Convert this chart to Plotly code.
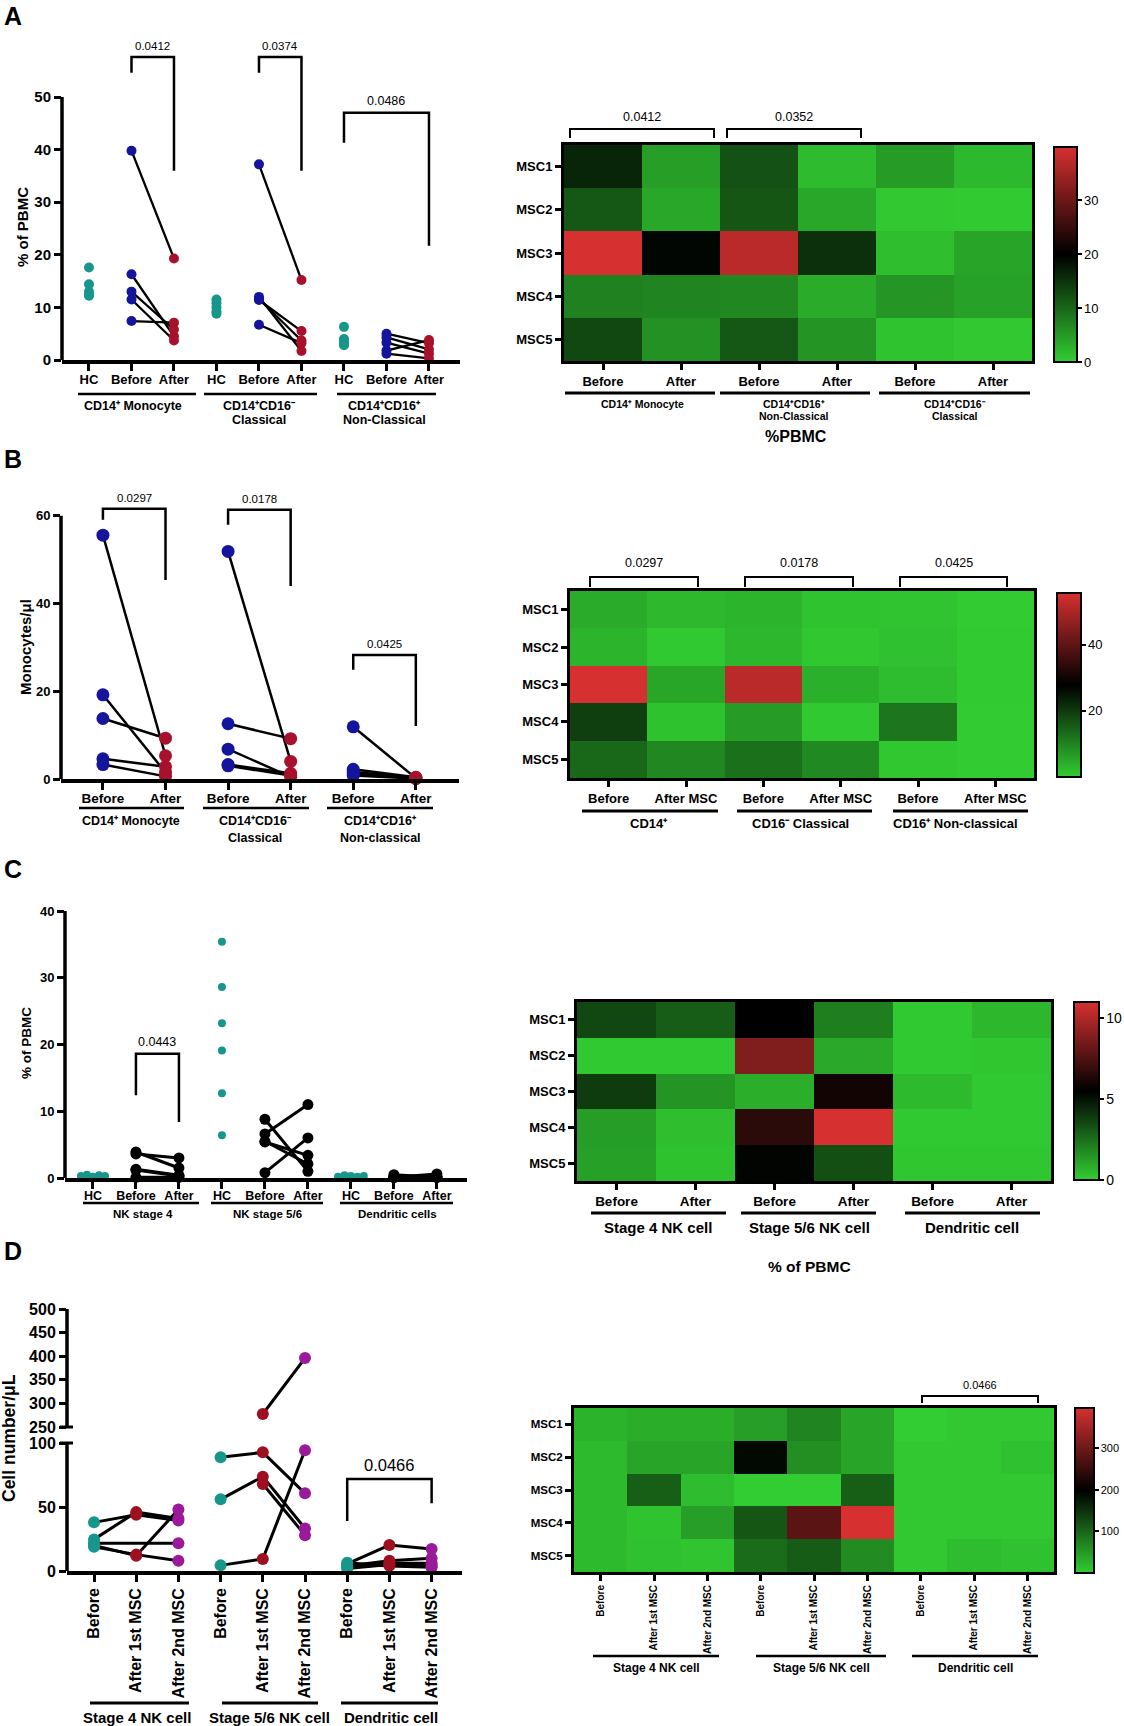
import numpy as np
import plotly.graph_objects as go

W, H = 1124, 1726
SANS = "Liberation Sans, Arial, Helvetica, sans-serif"

TEAL = "#17968b"
BLUE = "#14149c"
CRIMSON = "#a8112b"
DARKRED = "#9e1020"
PURPLE = "#9a1a9a"
HEAT_SCALE = [[0.0, "rgb(50,205,50)"], [0.5, "rgb(0,0,0)"], [1.0, "rgb(214,48,48)"]]
ROWS = ["MSC1", "MSC2", "MSC3", "MSC4", "MSC5"]

# ---------------- Panel A : % of PBMC (monocytes) ----------------
A_cats = ["HC", "Before", "After"]
A_hc_mono = [17.6, 14.4, 13.0, 12.4, 12.2]
A_before_mono = [16.3, 11.5, 39.8, 7.4, 13.0]
A_after_mono = [4.5, 3.7, 19.3, 7.1, 5.8]
A_hc_class = [11.5, 10.8, 10.0, 9.2, 8.8]
A_before_class = [12.0, 11.6, 37.2, 6.7, 11.4]
A_after_class = [1.7, 3.7, 15.2, 3.2, 5.5]
A_hc_ncl = [6.3, 4.0, 3.5, 3.0, 2.8]
A_before_ncl = [4.3, 1.2, 1.8, 5.0, 3.3]
A_after_ncl = [2.0, 0.3, 3.8, 3.2, 1.2]
A_heat_g3_before = [4.9, 0.5, 1.5, 5.3, 1.0]
A_heat_g3_after = [1.9, 0.3, 3.9, 4.3, 0.5]
A_heat_cols = ["Before", "After"] * 3

# ---------------- Panel B : Monocytes/ul ----------------
B_cats = ["Before", "After"]
B_before_mono = [4.6, 3.3, 55.6, 19.2, 13.8]
B_after_mono = [2.8, 0.6, 5.3, 1.5, 9.3]
B_before_class = [3.3, 3.0, 51.9, 6.8, 12.6]
B_after_class = [1.3, 0.8, 4.0, 0.5, 9.2]
B_before_ncl = [1.2, 1.6, 2.2, 11.9, 0.8]
B_after_ncl = [0.2, 0.3, 0.4, 0.2, 0.1]
B_heat_cols = ["Before", "After MSC"] * 3

# ---------------- Panel C : NK / DC % of PBMC ----------------
C_cats = ["HC", "Before", "After"]
C_hc_nk4 = [0.3, 0.5, 0.2, 0.4, 0.3]
C_before_nk4 = [3.6, 0.1, 3.9, 1.3, 1.2]
C_after_nk4 = [3.0, 0.1, 1.5, 0.4, 0.3]
C_hc_nk56 = [35.4, 28.6, 23.2, 19.1, 12.7, 6.4]
C_before_nk56 = [5.5, 8.8, 0.8, 6.6, 5.4]
C_after_nk56 = [2.1, 1.0, 6.0, 11.0, 3.4]
C_hc_dc = [0.2, 0.4, 0.3, 0.2, 0.3]
C_before_dc = [0.1, 0.1, 0.5, 0.1, 0.2]
C_after_dc = [0.6, 0.2, 0.1, 0.1, 0.2]
C_heat_cols = ["Before", "After"] * 3

# ---------------- Panel D : cell number/uL ----------------
D_cats = ["Before", "After 1st MSC", "After 2nd MSC"]
D_nk4_before = [38.0, 24.7, 21.6, 20.0, 19.0]
D_nk4_first = [44.0, 46.0, None, 12.0, 12.8]
D_nk4_second = [39.5, 41.0, 21.6, 48.0, 8.0]
D_nk56_before = [88.8, 56.0, 4.4, None, None]
D_nk56_first = [92.7, 73.7, 9.4, 277.5, 68.0]
D_nk56_second = [60.7, 33.3, 94.3, 396.0, 28.0]
D_dc_before = [5.5, 4.0, 3.0, 2.0, 6.5]
D_dc_first = [20.3, 8.0, 6.0, 5.0, 4.0]
D_dc_second = [17.2, 9.9, 6.0, 4.0, 3.0]
D_heat_nk4_before = [25, 18, 18, 18, 18]
D_heat_nk4_first = [30, 40, 107, 10, 12]
D_heat_nk4_second = [30, 40, 15, 45, 8]
D_heat_nk56_before = [45, 190, 0, 115, 95]
D_heat_nk56_first = [70, 60, 0, 282, 110]
D_heat_nk56_second = [39, 39, 107, 396, 63]
D_heat_dc_before = [0, 5, 5, 5, 5]
D_heat_dc_first = [5, 5, 5, 5, 15]
D_heat_dc_second = [5, 12, 5, 5, 12]
D_heat_cols = D_cats * 3

# =====================================================================
fig = go.Figure()
AX = {}
shapes, annots = [], []


def fx(p):
    return p / W


def fy(p):
    return 1 - p / H


def names(n):
    s = "" if n == 1 else str(n)
    return "xaxis" + s, "yaxis" + s, "x" + s, "y" + s


def bfont(size, bold=True):
    return dict(family=SANS, size=size, color="black", weight="bold" if bold else "normal")


def line_px(x0, y0, x1, y1, w=3):
    shapes.append(dict(type="line", xref="paper", yref="paper", x0=fx(x0), y0=fy(y0),
                       x1=fx(x1), y1=fy(y1), line=dict(color="black", width=w)))


def text_px(x, y, text, size, bold=True, angle=0, xanchor="center"):
    t = "<b>" + text + "</b>" if bold else text
    annots.append(dict(xref="paper", yref="paper", x=fx(x), y=fy(y), text=t, showarrow=False,
                       textangle=angle, xanchor=xanchor, yanchor="middle",
                       font=dict(family=SANS, size=size, color="black")))


def scatter_axes(n, xpx, ypx, xr, yr, yticks, ticktext, xfs, yfs, angle=0, ppu=1.0, standoff=0):
    xa, ya, xref, yref = names(n)
    AX[xa] = dict(domain=[fx(xpx[0]), fx(xpx[1])], range=xr, anchor=yref, showline=True,
                  linecolor="black", linewidth=3.5, ticks="outside", ticklen=7, tickwidth=3,
                  tickcolor="black", tickmode="array", tickvals=list(range(len(ticktext))),
                  ticktext=ticktext, tickangle=angle, tickfont=bfont(xfs), showgrid=False,
                  zeroline=False, ticklabelstandoff=standoff)
    AX[ya] = dict(domain=[fy(ypx[0]), fy(ypx[1])], range=yr, anchor=xref, showline=False,
                  ticks="outside", ticklen=7, tickwidth=3, tickcolor="black", tickmode="array",
                  tickvals=yticks, ticktext=[str(v) for v in yticks], tickfont=bfont(yfs),
                  showgrid=False, zeroline=False)
    shapes.append(dict(type="line", xref=xref + " domain", yref=yref, x0=0, x1=0,
                       y0=yticks[0] - 3.5 / ppu, y1=yticks[-1], line=dict(color="black", width=3.5)))


def add_points(n, groups, colors, sizes, paired, lw, spreads=None, upper=None, split=None):
    _, _, xref, yref = names(n)
    ncat = len(colors)
    for g, grp in enumerate(groups):
        pk = [k for k in range(ncat) if paired[k]]
        npat = len(grp[pk[0]])
        for i in range(npat):
            ys = [grp[k][i] for k in pk]
            xs = [g * ncat + k for k in pk]
            vals = [v for v in ys if v is not None]
            tx, ty = xref, yref
            if split is not None and min(vals) > split:
                tx, ty = upper
            fig.add_trace(go.Scatter(x=xs, y=ys, mode="lines", connectgaps=True,
                                     line=dict(color="black", width=lw), xaxis=tx, yaxis=ty,
                                     hoverinfo="skip", showlegend=False))
        for k in range(ncat):
            vals = [v for v in grp[k] if v is not None]
            off = np.zeros(len(vals))
            if spreads and (g, k) in spreads:
                off = np.linspace(-spreads[(g, k)], spreads[(g, k)], len(vals))
            xs = g * ncat + k + off
            if split is None:
                parts = [(xs, vals, xref, yref)]
            else:
                lo = [i for i, v in enumerate(vals) if v <= split]
                hi = [i for i, v in enumerate(vals) if v > split]
                parts = [([xs[i] for i in lo], [vals[i] for i in lo], xref, yref),
                         ([xs[i] for i in hi], [vals[i] for i in hi], upper[0], upper[1])]
            for px_, py_, tx, ty in parts:
                fig.add_trace(go.Scatter(x=list(px_), y=list(py_), mode="markers", cliponaxis=False,
                                         marker=dict(color=colors[k], size=sizes[k], line=dict(width=0)),
                                         xaxis=tx, yaxis=ty, hoverinfo="skip", showlegend=False))


def bracket(n, xa, xb, ytop, yl, yr_, label, fs, lw=2.5):
    _, _, xref, yref = names(n)
    shapes.append(dict(type="path", xref=xref, yref=yref,
                       path=f"M {xa},{yl} L {xa},{ytop} L {xb},{ytop} L {xb},{yr_}",
                       line=dict(color="black", width=lw)))
    annots.append(dict(xref=xref, yref=yref, x=(xa + xb) / 2, y=ytop, yshift=3, yanchor="bottom",
                       text=label, showarrow=False, font=dict(family=SANS, size=fs, color="black")))


def bracket_px(x0, x1, ytop, ybot, label, fs, ytext, lw=2):
    shapes.append(dict(type="path", xref="paper", yref="paper",
                       path=f"M {fx(x0)},{fy(ybot)} L {fx(x0)},{fy(ytop)} L {fx(x1)},{fy(ytop)} L {fx(x1)},{fy(ybot)}",
                       line=dict(color="black", width=lw)))
    text_px((x0 + x1) / 2, ytext, label, fs, bold=False)


def heat_panel(n, xpx, ypx, cols, ticktext, zmax, cb, xfs, yfs, angle=0):
    xa, ya, xref, yref = names(n)
    z = [list(r) for r in zip(*cols)]
    AX[xa] = dict(domain=[fx(xpx[0]), fx(xpx[1])], range=[-0.5, len(cols) - 0.5], anchor=yref,
                  showline=True, mirror=True, linecolor="black", linewidth=3, ticks="outside",
                  ticklen=6, tickwidth=2.5, tickcolor="black", tickmode="array",
                  tickvals=list(range(len(cols))), ticktext=ticktext, tickangle=angle,
                  tickfont=bfont(xfs), showgrid=False, zeroline=False)
    AX[ya] = dict(domain=[fy(ypx[0]), fy(ypx[1])], range=[4.5, -0.5], anchor=xref,
                  showline=True, mirror=True, linecolor="black", linewidth=3, ticks="outside",
                  ticklen=6, tickwidth=2.5, tickcolor="black", tickmode="array",
                  tickvals=list(range(5)), ticktext=ROWS, tickfont=bfont(yfs),
                  showgrid=False, zeroline=False)
    cx, cy0, cy1, cw, cticks, cfs = cb
    fig.add_trace(go.Heatmap(z=z, x=list(range(len(cols))), y=list(range(5)),
                             colorscale=HEAT_SCALE, zmin=0, zmax=zmax, xaxis=xref, yaxis=yref,
                             hoverinfo="skip",
                             colorbar=dict(x=fx(cx), xanchor="left", y=fy(cy1), yanchor="bottom",
                                           len=(cy1 - cy0) / H, lenmode="fraction", thickness=cw,
                                           thicknessmode="pixels", outlinewidth=2, outlinecolor="black",
                                           ticks="outside", ticklen=4, tickwidth=1.5, tickcolor="black",
                                           tickvals=cticks, tickfont=dict(family=SANS, size=cfs, color="black"),
                                           xpad=0, ypad=0)))


# ---------------- Panel A ----------------
scatter_axes(1, (62, 460), (360, 50), [-0.635, 8.73], [0, 58.94], [0, 10, 20, 30, 40, 50],
             A_cats * 3, 13, 15, ppu=5.26, standoff=-2)
add_points(1, [[A_hc_mono, A_before_mono, A_after_mono],
               [A_hc_class, A_before_class, A_after_class],
               [A_hc_ncl, A_before_ncl, A_after_ncl]],
           [TEAL, BLUE, CRIMSON], [10, 10, 10], [False, True, True], 2.3)
bracket(1, 1, 2, 57.6, 54.6, 36.0, "0.0412", 11.5)
bracket(1, 4, 5, 57.6, 54.6, 36.0, "0.0374", 11.5)
bracket(1, 6, 8, 47.0, 41.3, 21.7, "0.0486", 12.5)
text_px(22, 227, "% of PBMC", 15, angle=-90)
for (a, b), lines, c in [((78, 196), ["CD14⁺ Monocyte"], 133),
                         ((204, 317), ["CD14⁺CD16⁻", "Classical"], 259),
                         ((337, 436), ["CD14⁺CD16⁺", "Non-Classical"], 384)]:
    line_px(a, 394, b, 394, 2.5)
    for i, t in enumerate(lines):
        text_px(c, 406 + 14 * i, t, 12.5)

heat_panel(2, (564, 1032), (361, 145),
           [A_before_mono, A_after_mono, A_before_class, A_after_class, A_heat_g3_before, A_heat_g3_after],
           A_heat_cols, 39.8, (1054, 147, 362, 23, [0, 10, 20, 30], 13), 13, 13)
bracket_px(570, 714, 129, 138, "0.0412", 12.5, 117)
bracket_px(727, 861, 129, 138, "0.0352", 12.5, 117)
for (a, b), lines, c in [((565, 715), ["CD14⁺ Monocyte"], 642),
                         ((720, 870), ["CD14⁺CD16⁺", "Non-Classical"], 794),
                         ((879, 1030), ["CD14⁺CD16⁻", "Classical"], 955)]:
    line_px(a, 393, b, 393, 3)
    for i, t in enumerate(lines):
        text_px(c, 404 + 11.5 * i, t, 10.5)
text_px(796, 437, "%PBMC", 16)

# ---------------- Panel B ----------------
scatter_axes(3, (61, 459), (779, 490), [-0.67, 5.69], [0, 65.9], [0, 20, 40, 60],
             B_cats * 3, 13.5, 13, ppu=4.383, standoff=-3)
add_points(3, [[B_before_mono, B_after_mono], [B_before_class, B_after_class],
               [B_before_ncl, B_after_ncl]],
           [BLUE, CRIMSON], [13, 13], [True, True], 2.5)
bracket(3, 0, 1, 61.6, 59.1, 45.4, "0.0297", 11.5)
bracket(3, 2, 3, 61.4, 58.0, 44.0, "0.0178", 11.5)
bracket(3, 4, 5, 28.3, 24.9, 12.1, "0.0425", 11.5)
text_px(25, 647, "Monocytes/μl", 15, angle=-90)
for (a, b), lines, c in [((79, 184), ["CD14⁺ Monocyte"], 131),
                         ((203, 309), ["CD14⁺CD16⁻", "Classical"], 255),
                         ((327, 433), ["CD14⁺CD16⁺", "Non-classical"], 380)]:
    line_px(a, 808, b, 808, 2.5)
    for i, t in enumerate(lines):
        text_px(c, 821 + 17 * i, t, 12.5)

heat_panel(4, (570, 1034), (778, 591),
           [B_before_mono, B_after_mono, B_before_class, B_after_class, B_before_ncl, B_after_ncl],
           B_heat_cols, 55.6, (1057, 593, 777, 24, [20, 40], 13), 13, 13)
bracket_px(590, 698, 577, 587, "0.0297", 12.5, 563)
bracket_px(745, 853, 577, 587, "0.0178", 12.5, 563)
bracket_px(900, 1007, 577, 587, "0.0425", 12.5, 563)
for (a, b), t, c in [((582, 718), "CD14⁺", 649),
                     ((737, 872), "CD16⁻ Classical", 800),
                     ((893, 1028), "CD16⁺ Non-classical", 955)]:
    line_px(a, 811, b, 811, 3)
    text_px(c, 823, t, 13)

# ---------------- Panel C ----------------
scatter_axes(5, (65, 467), (1178, 911), [-0.65, 8.70], [0, 40], [0, 10, 20, 30, 40],
             C_cats * 3, 12.5, 13, ppu=6.675, standoff=-4)
add_points(5, [[C_hc_nk4, C_before_nk4, C_after_nk4],
               [C_hc_nk56, C_before_nk56, C_after_nk56],
               [C_hc_dc, C_before_dc, C_after_dc]],
           [TEAL, "black", "black"], [8, 11, 11], [False, True, True], 3,
           spreads={(0, 0): 0.28, (2, 0): 0.3})
bracket(5, 1, 2, 18.6, 12.4, 8.4, "0.0443", 12.5)
text_px(26, 1043, "% of PBMC", 13.5, angle=-90)
for (a, b), t, c in [((83, 199), "NK stage 4", 143), ((211, 323), "NK stage 5/6", 267),
                     ((340, 453), "Dendritic cells", 397)]:
    line_px(a, 1203, b, 1203, 2.5)
    text_px(c, 1214, t, 11.5)

heat_panel(6, (577, 1051), (1181, 1002),
           [C_before_nk4, C_after_nk4, C_before_nk56, C_after_nk56, C_before_dc, C_after_dc],
           C_heat_cols, 11.0, (1074, 1002, 1180, 25, [0, 5, 10], 14), 13.5, 13)
for (a, b), t, c in [((591, 726), "Stage 4 NK cell", 658), ((741, 876), "Stage 5/6 NK cell", 809),
                     ((905, 1040), "Dendritic cell", 972)]:
    line_px(a, 1213, b, 1213, 3)
    text_px(c, 1227, t, 15)
text_px(809, 1266, "% of PBMC", 15.5)

# ---------------- Panel D ----------------
scatter_axes(7, (67, 462), (1571, 1443), [-0.64, 8.72], [0, 100], [0, 50, 100],
             D_cats * 3, 16, 16, angle=-90, ppu=1.28)
AX["xaxis8"] = dict(domain=[fx(67), fx(462)], range=[-0.64, 8.72], anchor="y8", visible=False)
AX["yaxis8"] = dict(domain=[fy(1427), fy(1309)], range=[250, 500], anchor="x8", showline=False,
                    ticks="outside", ticklen=7, tickwidth=3, tickcolor="black", tickmode="array",
                    tickvals=[250, 300, 350, 400, 450, 500],
                    ticktext=["250", "300", "350", "400", "450", "500"], tickfont=bfont(16),
                    showgrid=False, zeroline=False)
shapes.append(dict(type="line", xref="x8 domain", yref="y8", x0=0, x1=0, y0=250, y1=500,
                   line=dict(color="black", width=3.5)))
line_px(60, 1427, 73, 1427, 3)
line_px(60, 1443, 73, 1443, 3)
add_points(7, [[D_nk4_before, D_nk4_first, D_nk4_second],
               [D_nk56_before, D_nk56_first, D_nk56_second],
               [D_dc_before, D_dc_first, D_dc_second]],
           [TEAL, DARKRED, PURPLE], [12, 12, 12], [True, True, True], 3,
           upper=("x8", "y8"), split=150)
bracket(7, 6, 8, 71.9, 39.0, 53.0, "0.0466", 16.5)
text_px(9, 1438, "Cell number/μL", 17.5, angle=-90)
for (a, b), t, c in [((90, 189), "Stage 4 NK cell", 137), ((222, 318), "Stage 5/6 NK cell", 269),
                     ((341, 438), "Dendritic cell", 391)]:
    line_px(a, 1703, b, 1703, 3)
    text_px(c, 1717, t, 15)

heat_panel(9, (574, 1054), (1572, 1408),
           [D_heat_nk4_before, D_heat_nk4_first, D_heat_nk4_second,
            D_heat_nk56_before, D_heat_nk56_first, D_heat_nk56_second,
            D_heat_dc_before, D_heat_dc_first, D_heat_dc_second],
           D_heat_cols, 396, (1075, 1408, 1573, 19, [100, 200, 300], 11), 10, 11.5, angle=-90)
bracket_px(922, 1038, 1396, 1403, "0.0466", 11, 1385)
for (a, b), t, c in [((593, 719), "Stage 4 NK cell", 656), ((756, 886), "Stage 5/6 NK cell", 821),
                     ((912, 1038), "Dendritic cell", 975)]:
    line_px(a, 1656, b, 1656, 2.5)
    text_px(c, 1668, t, 12)

# panel letters
for L, y in [("A", 16), ("B", 459), ("C", 869), ("D", 1251)]:
    text_px(13, y, L, 25)

fig.update_layout(width=W, height=H, margin=dict(l=0, r=0, t=0, b=0, autoexpand=False),
                  paper_bgcolor="white", plot_bgcolor="white", showlegend=False,
                  font=dict(family=SANS, color="black"), shapes=shapes, annotations=annots, **AX)
fig.write_html("out.html", config={"displayModeBar": False},
               post_script="document.body.style.margin='0';document.body.style.overflow='hidden';")
